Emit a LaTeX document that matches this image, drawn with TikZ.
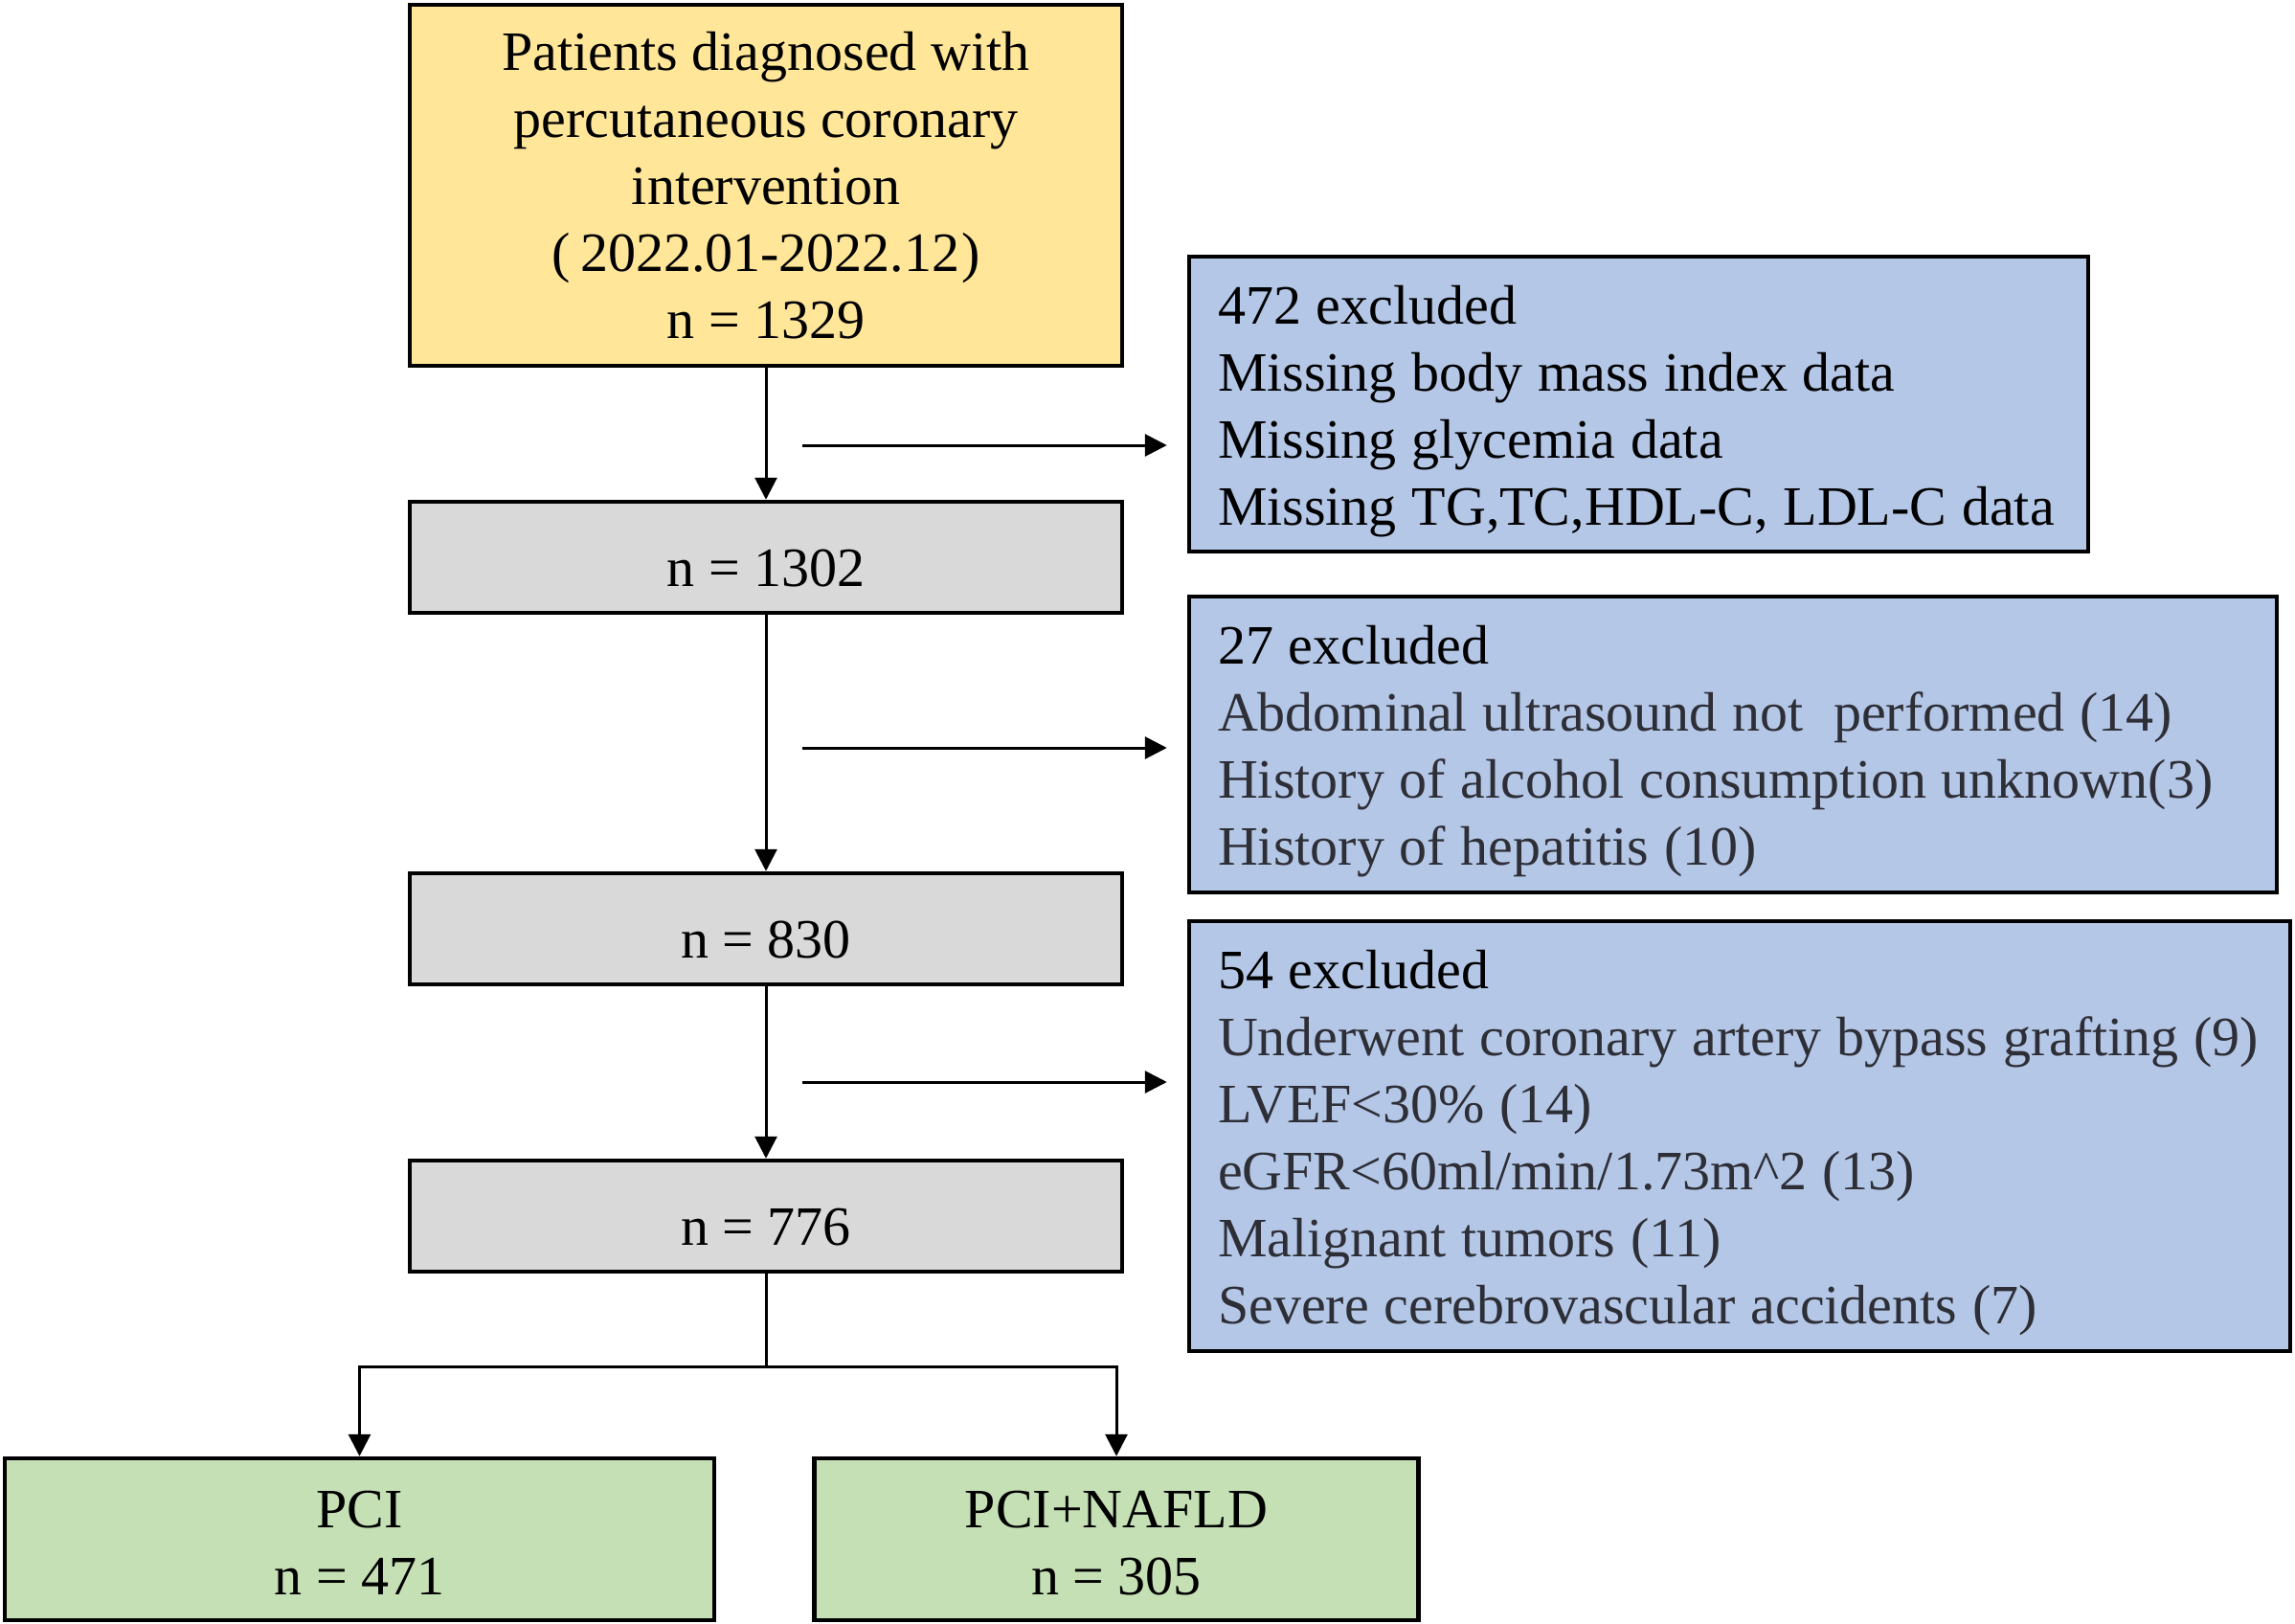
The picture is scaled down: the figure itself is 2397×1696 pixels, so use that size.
\documentclass[tikz,border=0pt]{standalone}
\usepackage{fontspec}
\setmainfont{Liberation Serif}
\usetikzlibrary{arrows.meta,calc}
\definecolor{cyel}{HTML}{FFE699}
\definecolor{cgray}{HTML}{D9D9D9}
\definecolor{cblue}{HTML}{B4C7E7}
\definecolor{cgreen}{HTML}{C5E0B4}
\definecolor{ctext}{HTML}{2E2E36}
\newcommand{\topstrut}[1]{\rule{0pt}{#1}}
\newcommand{\tsp}{\setlength{\spaceskip}{15.8pt}\setlength{\xspaceskip}{15.8pt}}
\begin{document}
\begin{tikzpicture}[x=1pt,y=-1pt,
  box/.style={draw=black, line width=4.5pt, inner sep=0pt, align=center,
    font=\fontsize{58}{70}\selectfont},
  ybox/.style={box, fill=cyel, minimum width=744pt, minimum height=377pt},
  gbox/.style={box, fill=cgray, minimum width=744pt, minimum height=116pt,
    text height=60pt, text depth=0pt},
  grbox/.style={box, fill=cgreen, minimum height=169pt},
  bbox/.style={box, fill=cblue, align=left, inner xsep=30pt, inner ysep=0pt},
  conn/.style={line width=3pt},
  arr/.style={conn, -{Triangle[length=23pt,width=23pt]}}
]
\useasboundingbox (0,0) rectangle (2397,1696);

\node[ybox] (top) at (800,193.5) {Patients diagnosed with\\percutaneous coronary\\intervention\\(\hspace{0.18em}2022.01-2022.12\hspace{0.03em})\\n = 1329};
\node[gbox] (g1) at (800,582) {n = 1302};
\node[gbox] (g2) at (800,970) {n = 830};
\node[gbox] (g3) at (800,1270) {n = 776};
\node[grbox, minimum width=741pt] (pci) at (375.5,1607.5) {\topstrut{46pt}PCI\\n = 471};
\node[grbox, minimum width=631pt] (nafld) at (1166,1607.5) {\topstrut{46pt}PCI+NAFLD\\n = 305};

\node[bbox, text width=879pt, minimum height=308pt] (b1) at (1711.5,422)
  {\tsp\topstrut{55pt}\mbox{472 excluded}\\\mbox{Missing body mass index data}\\\mbox{Missing glycemia data}\\\mbox{Missing TG,TC,HDL-C, LDL-C data}};
\node[bbox, text width=1076pt, minimum height=309pt] (b2) at (1810,777.5)
  {\tsp\topstrut{55pt}\mbox{27 excluded}\\{\color{ctext}\mbox{Abdominal ultrasound not\ \ performed (14)}}\\{\color{ctext}\mbox{History of alcohol consumption unknown(3)}}\\{\color{ctext}\mbox{History of hepatitis (10)}}};
\node[bbox, text width=1090pt, minimum height=449pt] (b3) at (1817,1186.5)
  {\tsp\topstrut{55pt}\mbox{54 excluded}\\{\color{ctext}\mbox{Underwent coronary artery bypass grafting (9)}}\\{\color{ctext}\mbox{LVEF<30\% (14)}}\\{\color{ctext}\mbox{eGFR<60ml/min/1.73m\textasciicircum 2 (13)}}\\{\color{ctext}\mbox{Malignant tumors (11)}}\\{\color{ctext}\mbox{Severe cerebrovascular accidents (7)}}};

\draw[arr] (top.south) -- (g1.north);
\draw[arr] (g1.south) -- (g2.north);
\draw[arr] (g2.south) -- (g3.north);

\coordinate (s1) at (838,465);
\coordinate (s2) at (838,781);
\coordinate (s3) at (838,1130);
\draw[arr, shorten >=21pt] (s1) -- (s1 -| b1.west);
\draw[arr, shorten >=21pt] (s2) -- (s2 -| b2.west);
\draw[arr, shorten >=21pt] (s3) -- (s3 -| b3.west);

\coordinate (br) at (800,1427);
\draw[conn] (g3.south) -- (br);
\draw[arr] (br) -| (pci.north);
\draw[arr] (br) -| (nafld.north);
\end{tikzpicture}
\end{document}
